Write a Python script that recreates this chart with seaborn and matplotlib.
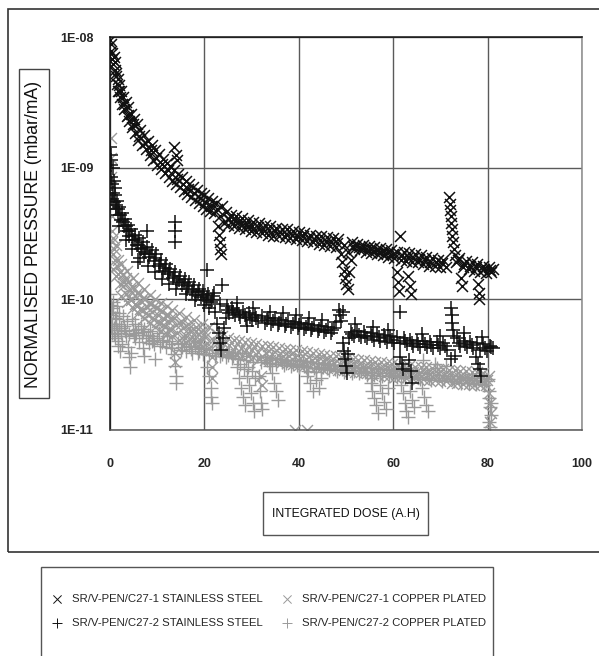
import matplotlib
matplotlib.use('Agg')
import matplotlib.pyplot as plt
import matplotlib.ticker as mticker
from matplotlib.patches import Rectangle
import pandas as pd
import seaborn as sns

# Legend names, in legend order
series_names = ['SR/V-PEN/C27-1 STAINLESS STEEL', 'SR/V-PEN/C27-2 STAINLESS STEEL',
                'SR/V-PEN/C27-1 COPPER PLATED', 'SR/V-PEN/C27-2 COPPER PLATED']

# (integrated dose A.H, normalised pressure mbar/mA)
ss1_points = [
    (0.1, 9.5e-9), (0.2, 7.8e-9), (0.3, 8.8e-9), (0.4, 6.8e-9), (0.5, 7.6e-9), (0.7, 6.2e-9),
    (0.8, 7.0e-9), (1.0, 5.6e-9), (1.1, 6.4e-9), (1.3, 5.0e-9), (1.4, 4.4e-9), (1.6, 4.8e-9),
    (1.7, 3.9e-9), (1.9, 4.3e-9), (2.1, 3.5e-9), (2.3, 3.9e-9), (2.5, 3.1e-9), (2.8, 3.5e-9),
    (3.0, 2.8e-9), (3.3, 3.2e-9), (3.5, 2.5e-9), (3.8, 2.9e-9), (4.1, 2.3e-9), (4.4, 2.6e-9),
    (4.7, 2.05e-9), (5.0, 2.35e-9), (5.3, 1.85e-9), (5.7, 2.15e-9), (6.0, 1.65e-9), (6.4, 1.95e-9),
    (6.8, 1.5e-9), (7.2, 1.78e-9), (7.6, 1.4e-9), (8.0, 1.62e-9), (8.4, 1.25e-9), (8.8, 1.5e-9),
    (9.2, 1.15e-9), (9.6, 1.38e-9), (10.0, 1.06e-9), (10.4, 1.27e-9), (10.8, 9.8e-10), (11.2, 1.18e-9),
    (11.6, 9.1e-10), (12.0, 1.1e-9), (12.4, 8.5e-10), (12.8, 1.03e-9), (13.2, 8.0e-10),
    (1.2, 5.3e-9), (2.0, 3.9e-9), (2.9, 3.1e-9), (3.9, 2.55e-9), (4.9, 2.15e-9), (6.2, 1.75e-9),
    (7.4, 1.55e-9), (8.6, 1.38e-9), (9.8, 1.2e-9), (11.0, 1.08e-9), (12.2, 9.6e-10), (14.2, 8.2e-10),
    (15.4, 7.6e-10), (16.6, 6.9e-10), (17.8, 6.4e-10), (19.0, 5.9e-10), (20.2, 5.5e-10), (21.4, 5.1e-10),
    (22.6, 4.9e-10), (24.9, 4.1e-10), (27.1, 3.9e-10), (29.5, 3.6e-10),
    (13.6, 1.45e-9), (13.9, 1.25e-9), (14.1, 1.15e-9),
    (13.6, 9.6e-10), (14.0, 7.5e-10), (14.4, 9.0e-10), (14.8, 7.1e-10), (15.2, 8.5e-10), (15.6, 6.7e-10),
    (16.0, 8.0e-10), (16.4, 6.3e-10), (16.8, 7.6e-10), (17.2, 6.0e-10), (17.6, 7.2e-10), (18.0, 5.7e-10),
    (18.4, 6.8e-10), (18.8, 5.4e-10), (19.2, 6.5e-10), (19.6, 5.1e-10), (20.0, 6.2e-10), (20.4, 4.9e-10),
    (20.8, 5.9e-10), (21.2, 4.7e-10), (21.6, 5.6e-10), (22.0, 4.5e-10), (22.4, 5.4e-10),
    (22.8, 3.6e-10), (23.0, 3.1e-10), (23.2, 2.7e-10), (23.4, 2.4e-10), (23.6, 2.2e-10),
    (23.3, 4.3e-10), (23.8, 5.1e-10), (24.2, 3.8e-10), (24.6, 4.6e-10), (25.0, 3.7e-10), (25.6, 4.4e-10),
    (26.2, 3.6e-10), (26.8, 4.3e-10), (27.4, 3.5e-10), (28.0, 4.15e-10), (28.6, 3.4e-10), (29.2, 4.0e-10),
    (29.8, 3.3e-10), (30.4, 3.9e-10), (31.0, 3.25e-10), (31.6, 3.8e-10), (32.2, 3.2e-10), (32.8, 3.7e-10),
    (33.4, 3.1e-10), (34.0, 3.6e-10), (34.6, 3.05e-10), (35.2, 3.5e-10), (35.8, 3.0e-10), (36.4, 3.45e-10),
    (37.0, 2.95e-10), (37.6, 3.4e-10), (38.2, 2.9e-10), (38.8, 3.3e-10), (39.4, 2.85e-10), (40.0, 3.25e-10),
    (40.6, 2.8e-10), (41.2, 3.2e-10), (41.8, 2.75e-10), (42.4, 3.1e-10), (43.0, 2.7e-10), (43.6, 3.05e-10),
    (44.2, 2.65e-10), (44.8, 3.0e-10), (45.4, 2.6e-10), (46.0, 2.95e-10), (46.6, 2.55e-10), (47.2, 2.9e-10),
    (47.8, 2.5e-10), (48.4, 2.85e-10),
    (25.3, 4.05e-10), (26.5, 3.95e-10), (27.7, 3.8e-10), (28.9, 3.7e-10), (30.1, 3.6e-10), (31.3, 3.52e-10),
    (32.5, 3.45e-10), (33.7, 3.36e-10), (34.9, 3.28e-10), (36.1, 3.22e-10), (37.3, 3.16e-10), (38.5, 3.1e-10),
    (39.7, 3.04e-10), (40.9, 3.0e-10), (42.1, 2.93e-10), (43.3, 2.87e-10), (44.5, 2.82e-10), (45.7, 2.77e-10),
    (46.9, 2.72e-10), (48.1, 2.67e-10),
    (48.9, 2.2e-10), (49.2, 1.9e-10), (49.5, 1.65e-10), (49.8, 1.45e-10), (50.1, 1.3e-10), (50.4, 1.2e-10),
    (50.7, 1.6e-10), (51.0, 2.0e-10), (49.6, 2.6e-10), (50.4, 2.3e-10),
    (51.2, 2.7e-10), (51.8, 2.4e-10), (52.4, 2.65e-10), (53.0, 2.35e-10), (53.6, 2.6e-10), (54.2, 2.3e-10),
    (54.8, 2.55e-10), (55.4, 2.25e-10), (56.0, 2.5e-10), (56.6, 2.2e-10), (57.2, 2.45e-10), (57.8, 2.15e-10),
    (58.4, 2.4e-10), (59.0, 2.1e-10), (59.6, 2.35e-10), (60.2, 2.05e-10),
    (51.5, 2.55e-10), (52.7, 2.5e-10), (53.9, 2.45e-10), (55.1, 2.4e-10), (56.3, 2.35e-10), (57.5, 2.3e-10),
    (58.7, 2.25e-10), (59.9, 2.2e-10),
    (61.5, 3.0e-10), (60.9, 1.6e-10), (61.1, 1.35e-10), (61.3, 1.15e-10), (63.2, 1.5e-10), (63.5, 1.25e-10),
    (63.8, 1.1e-10),
    (60.8, 2.3e-10), (61.6, 2.0e-10), (62.2, 2.3e-10), (62.8, 1.95e-10), (63.4, 2.25e-10), (64.0, 1.9e-10),
    (64.6, 2.2e-10), (65.2, 1.9e-10), (65.8, 2.15e-10), (66.4, 1.85e-10), (67.0, 2.1e-10), (67.6, 1.8e-10),
    (68.2, 2.05e-10), (68.8, 1.8e-10), (69.4, 2.0e-10), (70.0, 1.75e-10), (70.6, 2.0e-10), (71.2, 1.75e-10),
    (61.9, 2.15e-10), (63.1, 2.1e-10), (64.3, 2.05e-10), (65.5, 2.02e-10), (66.7, 1.98e-10), (67.9, 1.93e-10),
    (69.1, 1.9e-10), (70.3, 1.87e-10),
    (71.9, 6.0e-10), (72.0, 5.3e-10), (72.1, 4.8e-10), (72.2, 4.3e-10), (72.3, 3.8e-10), (72.4, 3.4e-10),
    (72.5, 3.0e-10), (72.6, 2.7e-10), (72.8, 2.4e-10), (73.0, 2.15e-10), (73.4, 1.9e-10), (74.0, 2.05e-10),
    (74.4, 1.45e-10), (74.6, 1.25e-10), (74.8, 1.75e-10), (75.4, 1.95e-10), (76.0, 1.7e-10), (76.6, 1.9e-10),
    (77.2, 1.65e-10), (77.9, 1.3e-10), (78.1, 1.12e-10), (78.2, 1.0e-10), (77.8, 1.85e-10), (78.4, 1.6e-10),
    (79.0, 1.8e-10), (79.6, 1.58e-10), (80.2, 1.75e-10), (80.8, 1.6e-10), (81.2, 1.7e-10),
    (73.7, 1.97e-10), (74.9, 1.85e-10), (76.3, 1.8e-10), (77.5, 1.76e-10), (79.3, 1.7e-10), (80.5, 1.67e-10),
]

ss2_points = [
    (0.1, 1.45e-9), (0.2, 1.25e-9), (0.15, 1.05e-9), (0.3, 8.5e-10), (0.5, 7.5e-10), (0.7, 6.5e-10),
    (0.4, 5.8e-10), (0.9, 5.5e-10), (1.1, 6.2e-10), (1.3, 4.9e-10), (1.5, 5.6e-10), (1.7, 4.4e-10),
    (2.0, 5.0e-10), (2.3, 4.0e-10), (2.6, 4.5e-10), (2.9, 3.6e-10), (3.2, 4.1e-10), (3.5, 3.3e-10),
    (3.8, 3.7e-10), (4.1, 3.0e-10), (4.5, 3.4e-10), (4.9, 2.8e-10), (5.3, 3.1e-10), (5.7, 2.6e-10),
    (6.1, 2.9e-10), (6.5, 2.4e-10), (6.9, 2.7e-10), (7.3, 2.2e-10), (7.8, 2.5e-10), (8.3, 2.1e-10),
    (8.8, 2.35e-10), (9.3, 1.95e-10), (9.8, 2.2e-10), (10.3, 1.8e-10), (10.8, 2.0e-10), (11.3, 1.65e-10),
    (11.8, 1.85e-10), (12.3, 1.55e-10), (12.8, 1.7e-10), (13.3, 1.45e-10), (13.8, 1.6e-10), (14.3, 1.35e-10),
    (14.8, 1.5e-10), (15.3, 1.28e-10), (15.8, 1.42e-10), (16.3, 1.2e-10), (16.8, 1.34e-10), (17.3, 1.13e-10),
    (17.8, 1.27e-10), (18.3, 1.08e-10), (18.8, 1.2e-10), (19.3, 1.03e-10), (19.8, 1.15e-10), (20.3, 9.8e-11),
    (20.8, 1.1e-10), (21.3, 9.5e-11), (21.8, 1.05e-10),
    (0.6, 1.0e-9), (0.3, 1.15e-9), (1.0, 7.0e-10), (1.9, 3.6e-10), (3.3, 2.8e-10), (4.7, 2.4e-10),
    (6.3, 2.05e-10), (8.0, 1.8e-10), (9.5, 1.6e-10), (11.0, 1.42e-10), (12.5, 1.3e-10), (14.0, 1.2e-10),
    (16.0, 1.1e-10), (18.0, 9.8e-11), (20.0, 9.0e-11), (21.0, 8.5e-11), (22.0, 1.12e-10),
    (0.8, 8.0e-10), (1.2, 5.2e-10), (1.6, 4.9e-10), (2.2, 4.4e-10), (2.8, 3.9e-10), (3.4, 3.6e-10),
    (4.0, 3.3e-10), (4.6, 3.0e-10), (5.2, 2.8e-10), (5.9, 2.6e-10), (6.7, 2.45e-10), (7.5, 2.3e-10),
    (8.5, 2.2e-10), (9.6, 2.05e-10), (10.6, 1.85e-10), (11.6, 1.72e-10), (12.6, 1.6e-10), (13.6, 1.5e-10),
    (14.6, 1.4e-10), (15.6, 1.33e-10), (16.6, 1.25e-10), (17.6, 1.18e-10), (18.6, 1.13e-10), (19.6, 1.07e-10),
    (20.6, 1.02e-10), (21.6, 9.8e-11),
    (7.8, 3.3e-10), (6.0, 1.9e-10), (13.8, 3.9e-10), (13.8, 3.3e-10), (13.8, 2.7e-10), (20.6, 1.66e-10),
    (23.7, 1.27e-10), (29.0, 6.2e-11),
    (22.2, 8.0e-11), (22.6, 6.5e-11), (23.0, 5.5e-11), (23.3, 4.6e-11), (23.6, 4.1e-11), (23.9, 5.0e-11),
    (24.2, 6.0e-11), (24.5, 7.2e-11), (23.4, 9.2e-11), (24.8, 8.8e-11), (25.3, 7.8e-11), (25.8, 8.5e-11),
    (26.4, 7.5e-11), (27.0, 8.2e-11), (27.6, 7.3e-11), (28.2, 8.0e-11), (28.8, 7.1e-11), (29.4, 7.8e-11),
    (30.0, 6.9e-11), (30.7, 7.6e-11), (31.4, 6.8e-11), (32.1, 7.4e-11), (32.8, 6.6e-11), (33.5, 7.2e-11),
    (34.2, 6.5e-11), (34.9, 7.1e-11), (35.6, 6.3e-11), (36.3, 6.9e-11), (37.0, 6.2e-11), (37.7, 6.8e-11),
    (38.4, 6.1e-11), (39.1, 6.7e-11), (39.8, 6.0e-11), (40.5, 6.6e-11), (41.2, 5.9e-11), (41.9, 6.4e-11),
    (42.6, 5.8e-11), (43.3, 6.3e-11), (44.0, 5.7e-11), (44.7, 6.2e-11), (45.4, 5.6e-11), (46.1, 6.1e-11),
    (46.8, 5.5e-11), (47.5, 6.0e-11),
    (25.0, 8.2e-11), (26.1, 8.0e-11), (27.3, 7.75e-11), (28.5, 7.55e-11), (29.7, 7.35e-11), (30.9, 7.2e-11),
    (33.2, 6.9e-11), (34.5, 6.8e-11), (35.9, 6.6e-11), (37.3, 6.5e-11), (38.7, 6.4e-11), (40.1, 6.3e-11),
    (41.5, 6.15e-11), (42.9, 6.05e-11), (44.3, 5.95e-11), (45.7, 5.85e-11), (47.1, 5.75e-11),
    (26.9, 9.3e-11), (30.3, 8.6e-11), (33.8, 8.0e-11), (36.6, 7.8e-11), (39.5, 7.5e-11), (42.2, 7.1e-11),
    (45.0, 6.9e-11), (47.8, 6.7e-11),
    (48.5, 8.3e-11), (48.8, 7.5e-11), (49.0, 6.8e-11), (49.3, 4.6e-11), (49.5, 4.0e-11), (49.7, 3.5e-11),
    (50.0, 3.1e-11), (50.2, 2.7e-11), (50.4, 3.8e-11), (50.6, 5.0e-11), (49.4, 8.0e-11),
    (51.0, 5.6e-11), (51.7, 5.2e-11), (52.4, 5.7e-11), (53.1, 5.1e-11), (53.8, 5.6e-11), (54.5, 5.0e-11),
    (55.2, 5.5e-11), (55.9, 4.9e-11), (56.6, 5.4e-11), (57.3, 4.8e-11), (58.0, 5.3e-11), (58.7, 4.7e-11),
    (59.4, 5.2e-11), (60.1, 4.6e-11), (60.8, 5.1e-11),
    (51.3, 5.4e-11), (52.7, 5.35e-11), (54.1, 5.25e-11), (55.5, 5.2e-11), (56.9, 5.1e-11), (58.3, 5.0e-11),
    (59.7, 4.9e-11), (52.0, 6.4e-11), (55.8, 6.1e-11), (58.9, 5.8e-11),
    (61.4, 7.9e-11), (61.5, 3.6e-11), (61.8, 3.2e-11), (62.0, 2.9e-11), (63.4, 3.4e-11), (63.7, 2.8e-11),
    (64.0, 2.3e-11),
    (61.5, 4.6e-11), (62.2, 5.0e-11), (62.9, 4.5e-11), (63.6, 4.9e-11), (64.3, 4.4e-11), (65.0, 4.8e-11),
    (65.7, 4.3e-11), (66.4, 4.8e-11), (67.1, 4.3e-11), (67.8, 4.7e-11), (68.5, 4.2e-11), (69.2, 4.7e-11),
    (69.9, 4.2e-11), (70.6, 4.6e-11), (71.3, 4.1e-11),
    (62.5, 4.75e-11), (63.9, 4.65e-11), (65.3, 4.55e-11), (66.7, 4.55e-11), (68.1, 4.45e-11), (69.5, 4.45e-11),
    (70.9, 4.35e-11), (66.0, 5.4e-11), (69.9, 5.2e-11),
    (72.2, 8.6e-11), (72.4, 7.5e-11), (72.5, 6.6e-11), (72.7, 5.8e-11), (72.9, 5.2e-11), (73.1, 3.7e-11),
    (72.3, 3.5e-11), (73.5, 5.0e-11), (74.2, 4.4e-11), (74.9, 4.8e-11), (75.6, 4.3e-11), (76.3, 4.7e-11),
    (77.0, 4.2e-11), (77.6, 3.6e-11), (78.0, 3.2e-11), (78.3, 2.9e-11), (78.5, 2.6e-11),
    (77.7, 4.6e-11), (78.4, 4.1e-11), (79.1, 4.5e-11), (79.8, 4.0e-11), (80.5, 4.4e-11), (81.2, 4.2e-11),
    (73.9, 4.6e-11), (75.3, 4.55e-11), (76.7, 4.45e-11), (79.4, 4.25e-11), (80.8, 4.3e-11), (75.0, 5.5e-11),
    (78.9, 5.1e-11),
]

cu1_points = [
    (0.15, 1.7e-9), (0.2, 1.2e-9), (0.25, 8.5e-10), (0.3, 6.0e-10), (0.35, 4.3e-10), (0.4, 3.3e-10),
    (0.5, 2.7e-10),
    (0.6, 2.9e-10), (0.6, 2.2e-10), (0.6, 1.7e-10), (1.2, 2.6e-10), (1.2, 1.5e-10), (1.8, 2.0e-10),
    (2.4, 1.85e-10), (2.4, 1.05e-10), (3.0, 1.35e-10), (3.6, 1.65e-10), (3.6, 9.5e-11), (4.2, 1.17e-10),
    (4.8, 1.45e-10), (4.8, 8.5e-11), (5.4, 1.05e-10), (6.0, 1.32e-10), (6.0, 7.8e-11), (6.6, 9.6e-11),
    (7.2, 1.2e-10), (7.2, 7.2e-11), (7.8, 8.7e-11), (8.4, 1.08e-10), (8.4, 6.6e-11), (9.0, 8.0e-11),
    (9.6, 1.0e-10), (9.6, 6.1e-11), (10.2, 7.5e-11), (10.8, 9.3e-11), (10.8, 5.7e-11), (11.4, 7.0e-11),
    (12.0, 8.8e-11), (12.0, 5.4e-11), (12.6, 6.7e-11), (13.2, 8.3e-11), (13.2, 5.2e-11),
    (0.9, 2.4e-10), (1.5, 1.8e-10), (2.1, 1.3e-10), (2.7, 1.55e-10), (3.3, 1.1e-10), (3.9, 1.35e-10),
    (4.5, 9.8e-11), (5.1, 1.2e-10), (5.7, 8.8e-11), (6.3, 1.1e-10), (6.9, 8.2e-11), (7.5, 1.0e-10),
    (8.1, 7.6e-11), (8.7, 9.2e-11), (9.3, 7.0e-11), (9.9, 8.6e-11), (10.5, 6.6e-11), (11.1, 8.1e-11),
    (11.7, 6.2e-11), (12.3, 7.6e-11), (12.9, 5.9e-11), (13.5, 7.2e-11), (15.0, 6.8e-11), (15.8, 5.3e-11),
    (16.6, 6.4e-11), (17.4, 5.1e-11), (18.2, 6.1e-11), (19.0, 4.9e-11), (19.8, 5.8e-11), (20.6, 4.6e-11),
    (1.0, 2.0e-10), (1.6, 1.55e-10), (2.2, 1.6e-10), (2.8, 1.25e-10), (3.4, 1.45e-10), (4.0, 1.05e-10),
    (4.6, 1.25e-10), (5.2, 9.2e-11), (5.8, 1.12e-10), (6.4, 8.4e-11), (7.0, 1.02e-10), (7.6, 7.8e-11),
    (8.2, 9.4e-11), (8.8, 7.2e-11), (9.4, 8.8e-11), (10.0, 6.7e-11), (10.6, 8.2e-11), (11.2, 6.3e-11),
    (11.8, 7.6e-11), (12.4, 5.9e-11), (13.0, 7.2e-11), (14.3, 5.5e-11), (15.1, 6.5e-11), (15.9, 5.0e-11),
    (16.7, 6.0e-11), (17.5, 4.8e-11), (18.3, 5.7e-11), (19.1, 4.6e-11), (19.9, 5.4e-11),
    (13.8, 3.9e-11), (13.8, 3.3e-11),
    (14.0, 6.3e-11), (14.6, 7.8e-11), (14.6, 4.9e-11), (15.4, 6.0e-11), (16.2, 7.3e-11), (16.2, 4.7e-11),
    (17.0, 5.7e-11), (17.8, 6.9e-11), (17.8, 4.5e-11), (18.6, 5.4e-11), (19.4, 6.5e-11), (19.4, 4.3e-11),
    (20.2, 5.1e-11), (21.6, 3.6e-11), (21.6, 3.0e-11), (21.6, 2.5e-11), (21.0, 6.1e-11), (21.0, 4.2e-11),
    (21.8, 4.9e-11),
    (22.6, 5.4e-11), (23.2, 4.1e-11), (23.8, 5.2e-11), (24.4, 4.0e-11), (25.0, 5.0e-11), (25.6, 3.9e-11),
    (26.2, 4.9e-11), (26.8, 3.8e-11), (27.4, 4.8e-11), (28.0, 3.7e-11), (28.6, 4.7e-11), (29.2, 3.65e-11),
    (29.8, 4.6e-11), (30.4, 3.6e-11), (31.0, 4.5e-11), (31.6, 3.5e-11), (32.0, 2.6e-11), (32.1, 2.2e-11),
    (32.2, 4.4e-11), (32.8, 3.45e-11), (33.4, 4.35e-11), (34.0, 3.4e-11), (34.6, 4.3e-11), (35.2, 3.35e-11),
    (35.8, 4.2e-11), (36.4, 3.3e-11), (37.0, 4.15e-11), (37.6, 3.25e-11), (38.2, 4.1e-11), (38.8, 3.2e-11),
    (39.2, 1.0e-11), (41.7, 1.0e-11),
    (39.4, 4.05e-11), (40.0, 3.15e-11), (40.6, 4.0e-11), (41.2, 3.1e-11), (41.8, 3.95e-11), (42.4, 3.05e-11),
    (43.0, 3.9e-11), (43.6, 3.0e-11), (44.2, 3.8e-11), (44.8, 2.95e-11), (45.4, 3.75e-11), (46.0, 2.95e-11),
    (46.6, 3.7e-11), (47.2, 2.9e-11), (47.8, 3.65e-11), (48.4, 2.85e-11), (49.0, 3.6e-11), (49.6, 2.85e-11),
    (50.2, 3.55e-11), (50.8, 2.8e-11), (51.4, 3.5e-11), (52.0, 2.75e-11), (52.6, 3.45e-11), (53.2, 2.75e-11),
    (53.8, 3.4e-11), (54.4, 2.7e-11), (55.0, 3.35e-11), (55.6, 2.65e-11), (56.2, 3.3e-11), (56.8, 2.65e-11),
    (57.4, 3.3e-11), (58.0, 2.6e-11), (58.6, 3.25e-11), (59.2, 2.6e-11), (59.8, 3.2e-11), (60.4, 2.55e-11),
    (61.0, 3.15e-11), (61.6, 2.55e-11), (62.2, 3.1e-11), (62.8, 2.5e-11), (63.4, 3.1e-11), (64.0, 2.5e-11),
    (64.6, 3.05e-11), (65.2, 2.45e-11), (65.8, 3.0e-11), (66.4, 2.45e-11), (67.0, 3.0e-11), (67.6, 2.4e-11),
    (68.2, 2.95e-11), (68.8, 2.4e-11), (69.4, 2.9e-11), (70.0, 2.35e-11), (70.6, 2.9e-11), (71.2, 2.35e-11),
    (71.8, 2.85e-11), (72.4, 2.3e-11), (73.0, 2.85e-11), (73.6, 2.3e-11), (74.2, 2.8e-11), (74.8, 2.25e-11),
    (75.4, 2.8e-11), (76.0, 2.25e-11), (76.6, 2.75e-11), (77.2, 2.2e-11), (77.8, 2.75e-11), (78.4, 2.2e-11),
    (79.0, 2.7e-11), (79.6, 2.2e-11), (80.2, 2.6e-11),
    (22.9, 4.7e-11), (24.1, 4.55e-11), (25.3, 4.45e-11), (26.5, 4.3e-11), (27.7, 4.2e-11), (28.9, 4.1e-11),
    (30.1, 4.05e-11), (31.3, 3.95e-11), (33.1, 3.85e-11), (34.3, 3.8e-11), (35.5, 3.75e-11), (36.7, 3.7e-11),
    (37.9, 3.65e-11), (39.1, 3.6e-11), (40.3, 3.55e-11), (41.5, 3.5e-11), (42.7, 3.45e-11), (43.9, 3.4e-11),
    (45.1, 3.35e-11), (46.3, 3.3e-11), (47.5, 3.25e-11), (48.7, 3.2e-11), (49.9, 3.18e-11), (51.1, 3.13e-11),
    (52.3, 3.08e-11), (53.5, 3.05e-11), (54.7, 3.0e-11), (55.9, 2.97e-11), (57.1, 2.95e-11), (58.3, 2.9e-11),
    (59.5, 2.88e-11), (60.7, 2.85e-11), (61.9, 2.8e-11), (63.1, 2.78e-11), (64.3, 2.75e-11), (65.5, 2.72e-11),
    (66.7, 2.7e-11), (67.9, 2.66e-11), (69.1, 2.63e-11), (70.3, 2.6e-11), (71.5, 2.58e-11), (72.7, 2.55e-11),
    (73.9, 2.53e-11), (75.1, 2.5e-11), (76.3, 2.48e-11), (77.5, 2.45e-11), (78.7, 2.43e-11), (79.9, 2.4e-11),
    (80.4, 1.9e-11), (80.6, 1.6e-11), (80.8, 1.35e-11), (80.5, 1.15e-11),
]

cu2_points = [
    (0.1, 1.1e-10), (0.2, 9.0e-11), (0.3, 7.5e-11), (0.5, 6.5e-11), (0.4, 5.5e-11), (0.7, 8.0e-11),
    (0.9, 6.0e-11), (1.1, 5.0e-11), (1.3, 7.0e-11), (1.5, 5.8e-11), (1.7, 4.8e-11), (2.0, 6.5e-11),
    (2.3, 5.5e-11), (2.6, 4.5e-11), (3.0, 6.2e-11), (3.4, 5.2e-11), (3.8, 4.3e-11), (4.0, 3.6e-11),
    (4.2, 3.0e-11), (4.4, 3.9e-11), (4.8, 5.8e-11), (5.2, 5.0e-11), (5.6, 5.5e-11), (6.2, 4.7e-11),
    (6.8, 5.3e-11), (7.0, 4.2e-11), (7.1, 3.7e-11), (7.6, 5.0e-11), (8.2, 4.6e-11), (8.8, 5.2e-11),
    (9.4, 4.5e-11), (9.6, 3.5e-11), (10.0, 5.0e-11), (10.6, 4.4e-11), (11.2, 4.9e-11), (11.8, 4.3e-11),
    (0.6, 9.5e-11), (1.0, 7.2e-11), (1.9, 7.8e-11), (2.8, 7.4e-11), (3.6, 6.8e-11), (4.6, 7.0e-11),
    (5.4, 6.4e-11), (6.5, 6.2e-11), (7.3, 5.9e-11), (8.5, 5.7e-11), (9.1, 4.9e-11), (10.3, 5.5e-11),
    (0.2, 6.2e-11), (0.5, 8.5e-11), (0.8, 5.4e-11), (1.2, 6.4e-11), (1.4, 8.8e-11), (1.6, 5.2e-11),
    (2.4, 6.0e-11), (3.2, 5.7e-11), (4.0, 5.4e-11), (5.0, 5.3e-11), (5.9, 5.9e-11), (7.0, 5.6e-11),
    (8.0, 5.3e-11), (9.0, 4.8e-11), (11.0, 4.7e-11), (12.0, 5.2e-11), (13.2, 4.5e-11), (15.3, 4.3e-11),
    (17.1, 4.15e-11), (18.9, 4.0e-11),
    (1.8, 4.4e-11), (2.2, 4.0e-11),
    (12.4, 4.8e-11), (13.0, 4.2e-11), (13.6, 3.8e-11), (13.8, 3.1e-11), (13.9, 2.6e-11), (14.0, 2.3e-11),
    (14.4, 4.6e-11), (15.0, 4.1e-11), (15.6, 4.5e-11), (16.2, 4.0e-11), (16.8, 4.4e-11), (17.4, 3.9e-11),
    (18.0, 4.3e-11), (18.6, 3.85e-11), (19.2, 4.2e-11), (19.8, 3.8e-11),
    (20.6, 3.0e-11), (21.0, 2.6e-11), (21.3, 2.1e-11), (21.5, 1.8e-11), (21.7, 1.6e-11),
    (20.4, 4.15e-11), (21.0, 3.75e-11), (21.6, 4.1e-11), (22.2, 3.7e-11), (22.8, 4.05e-11), (23.4, 3.65e-11),
    (24.0, 4.0e-11), (24.6, 3.6e-11), (25.2, 3.95e-11), (25.8, 3.55e-11), (26.4, 3.9e-11),
    (22.5, 3.9e-11), (23.7, 3.8e-11), (24.9, 3.75e-11), (26.1, 3.7e-11),
    (27.0, 3.0e-11), (27.4, 2.5e-11), (27.8, 2.1e-11), (28.2, 1.8e-11), (28.6, 1.55e-11), (29.0, 2.6e-11),
    (29.4, 2.2e-11), (29.8, 1.9e-11), (30.2, 1.6e-11), (30.6, 1.4e-11), (27.2, 3.5e-11), (28.0, 3.85e-11),
    (28.8, 3.4e-11), (29.6, 3.7e-11), (30.4, 3.3e-11), (31.2, 3.65e-11), (31.6, 2.6e-11), (31.8, 2.0e-11),
    (32.0, 1.6e-11), (32.2, 1.45e-11), (32.0, 3.3e-11), (32.8, 3.6e-11), (33.6, 3.25e-11),
    (27.6, 3.2e-11), (28.4, 2.9e-11), (29.2, 3.0e-11), (30.0, 2.8e-11), (30.8, 2.5e-11), (33.2, 3.4e-11),
    (34.4, 2.7e-11), (34.8, 2.3e-11), (35.2, 2.0e-11), (35.6, 1.7e-11),
    (34.4, 3.55e-11), (35.2, 3.2e-11), (36.0, 3.5e-11), (36.8, 3.15e-11), (37.6, 3.45e-11), (38.4, 3.1e-11),
    (39.2, 3.4e-11), (40.0, 3.05e-11), (40.8, 3.35e-11),
    (34.0, 3.1e-11), (36.4, 3.3e-11), (37.2, 3.25e-11), (38.8, 3.2e-11), (39.6, 3.15e-11), (41.2, 3.1e-11),
    (41.8, 2.6e-11), (42.4, 2.3e-11), (43.0, 2.0e-11), (43.6, 2.4e-11), (44.2, 2.1e-11), (44.8, 2.5e-11),
    (41.6, 3.0e-11), (42.4, 3.3e-11), (43.2, 2.95e-11), (44.0, 3.25e-11), (44.8, 2.9e-11), (45.6, 3.2e-11),
    (46.4, 2.85e-11), (47.2, 3.15e-11), (48.0, 2.8e-11), (48.8, 3.1e-11), (49.6, 2.75e-11), (50.4, 3.05e-11),
    (51.2, 2.7e-11), (52.0, 3.0e-11), (52.8, 2.7e-11), (53.6, 2.95e-11), (54.4, 2.65e-11),
    (42.0, 2.8e-11), (43.6, 2.75e-11), (45.2, 3.0e-11), (46.0, 2.95e-11), (47.6, 2.9e-11), (49.2, 2.9e-11),
    (50.0, 2.85e-11), (51.6, 2.8e-11), (53.2, 2.8e-11), (54.0, 2.75e-11),
    (55.2, 2.3e-11), (55.6, 2.0e-11), (56.0, 1.75e-11), (56.4, 1.55e-11), (56.8, 1.35e-11), (57.2, 2.2e-11),
    (57.6, 1.9e-11), (58.0, 1.65e-11), (58.4, 1.45e-11), (58.8, 2.1e-11),
    (55.2, 2.95e-11), (56.0, 2.65e-11), (56.8, 2.9e-11), (57.6, 2.6e-11), (58.4, 2.9e-11), (59.2, 2.6e-11),
    (60.0, 2.85e-11), (60.8, 2.55e-11),
    (55.6, 2.5e-11), (57.2, 2.7e-11), (59.6, 2.7e-11), (60.4, 2.65e-11),
    (61.6, 2.2e-11), (62.0, 1.9e-11), (62.4, 1.6e-11), (62.8, 1.4e-11), (63.2, 1.25e-11), (63.6, 2.0e-11),
    (64.0, 1.7e-11), (64.4, 1.5e-11), (61.6, 2.8e-11), (62.4, 2.5e-11), (63.2, 2.8e-11), (64.0, 2.5e-11),
    (64.8, 2.75e-11), (66.2, 2.1e-11), (66.6, 1.8e-11), (67.0, 1.55e-11), (67.4, 1.4e-11),
    (62.0, 2.6e-11), (63.6, 2.6e-11), (65.2, 2.55e-11),
    (65.6, 2.45e-11), (66.4, 3.4e-11), (67.2, 2.7e-11), (68.0, 2.4e-11), (68.8, 3.2e-11), (69.6, 2.65e-11),
    (70.4, 2.35e-11), (71.2, 3.1e-11), (72.0, 2.6e-11), (72.8, 2.35e-11), (73.6, 2.6e-11), (74.4, 2.3e-11),
    (75.2, 2.55e-11), (76.0, 2.3e-11), (76.8, 2.5e-11), (77.6, 2.25e-11), (78.4, 2.5e-11), (79.2, 2.2e-11),
    (80.0, 2.45e-11),
    (67.6, 2.5e-11), (69.2, 2.95e-11), (70.8, 2.5e-11), (72.4, 2.45e-11), (74.0, 2.45e-11), (75.6, 2.4e-11),
    (77.2, 2.4e-11), (78.8, 2.35e-11), (79.6, 2.35e-11),
    (80.2, 2.0e-11), (80.4, 1.75e-11), (80.6, 1.5e-11), (80.8, 1.3e-11), (80.3, 1.15e-11), (80.5, 1.05e-11),
    (80.7, 1.6e-11),
]

x_ticks = [0, 20, 40, 60, 80, 100]
y_ticks = [1e-11, 1e-10, 1e-9, 1e-8]
y_tick_labels = ['1E-11', '1E-10', '1E-09', '1E-08']

# build one long table
frames = []
for name, pts in zip(series_names, [ss1_points, ss2_points, cu1_points, cu2_points]):
    part = pd.DataFrame(pts, columns=['dose', 'pressure'])
    part['series'] = name
    frames.append(part)
df = pd.concat(frames, ignore_index=True)

sns.set_style('white')
plt.rcParams['font.family'] = ['Liberation Sans', 'DejaVu Sans']

W, H = 599, 656
fig = plt.figure(figsize=(W / 100, H / 100), dpi=100)

def fx(px):
    return px / W

def fy(py):
    return 1 - py / H

ax = fig.add_axes([fx(110), fy(430), fx(582) - fx(110), fy(37) - fy(430)])

black = '#111111'
grey = '#9a9a9a'
styles = {
    series_names[0]: dict(marker='x', color=black, s=62, linewidth=1.1),
    series_names[1]: dict(marker='+', color=black, s=95, linewidth=1.1),
    series_names[2]: dict(marker='x', color=grey, s=62, linewidth=1.0),
    series_names[3]: dict(marker='+', color=grey, s=95, linewidth=1.0),
}
# grey series first so the black ones sit on top
for name in [series_names[3], series_names[2], series_names[1], series_names[0]]:
    sns.scatterplot(data=df[df['series'] == name], x='dose', y='pressure', ax=ax,
                    legend=False, label=name, **styles[name])

ax.set_yscale('log')
ax.set_xlim(0, 100)
ax.set_ylim(1e-11, 1e-8)
ax.set_xlabel('')
ax.set_ylabel('')

ax.set_xticks(x_ticks)
ax.xaxis.set_minor_locator(mticker.MultipleLocator(4))
ax.yaxis.set_major_locator(mticker.FixedLocator(y_ticks))
ax.yaxis.set_major_formatter(mticker.FixedFormatter(y_tick_labels))
ax.yaxis.set_minor_locator(mticker.LogLocator(base=10, subs=range(2, 10)))
ax.yaxis.set_minor_formatter(mticker.NullFormatter())

ax.tick_params(axis='x', which='major', direction='out', length=8.5, width=1, color='#333333',
               pad=12, labelsize=9)
ax.tick_params(axis='x', which='minor', direction='out', length=3.5, width=1, color='#333333')
ax.tick_params(axis='y', which='major', direction='out', length=6, width=1, color='#333333',
               pad=6, labelsize=9)
ax.tick_params(axis='y', which='minor', direction='out', length=3, width=1, color='#333333')
for lbl in ax.get_xticklabels() + ax.get_yticklabels():
    lbl.set_fontweight('bold')

ax.grid(True, which='major', color='#5a5a5a', linewidth=1)
ax.set_axisbelow(True)
ax.spines['top'].set_color('#111111')
ax.spines['left'].set_color('#111111')
ax.spines['right'].set_color('#8a8a8a')
ax.spines['bottom'].set_color('#555555')
for sp in ax.spines.values():
    sp.set_linewidth(1.1)

# outer chart frame (right edge runs off the picture)
fig.add_artist(Rectangle((fx(8), fy(552)), fx(620) - fx(8), fy(9) - fy(552),
                         transform=fig.transFigure, fill=False, ec='#333333', lw=1.2))

# axis title boxes
fig.add_artist(Rectangle((fx(19), fy(398)), fx(49) - fx(19), fy(69) - fy(398),
                         transform=fig.transFigure, fill=False, ec='#444444', lw=1))
fig.text(fx(34), fy(234), 'NORMALISED PRESSURE (mbar/mA)', rotation=90, ha='center', va='center',
         fontsize=12.7, color='#111111')
fig.add_artist(Rectangle((fx(263), fy(535)), fx(428) - fx(263), fy(492) - fy(535),
                         transform=fig.transFigure, fill=False, ec='#555555', lw=1))
fig.text(fx(345.5), fy(514), 'INTEGRATED DOSE (A.H)', ha='center', va='center',
         fontsize=8.8, color='#111111')

# legend box (bottom edge runs off the picture)
fig.add_artist(Rectangle((fx(41), fy(680)), fx(493) - fx(41), fy(567) - fy(680),
                         transform=fig.transFigure, fill=False, ec='#555555', lw=1))
handles, labels = ax.get_legend_handles_labels()
order = [labels.index(n) for n in series_names]
leg = fig.legend([handles[i] for i in order], [labels[i] for i in order], ncol=2,
                 loc='upper left', bbox_to_anchor=(fx(51), fy(594)), frameon=False,
                 fontsize=8.2, handlelength=1.0, handletextpad=0.85, columnspacing=1.6,
                 labelspacing=1.2, borderpad=0, borderaxespad=0, markerscale=0.75)
for h in leg.legend_handles:
    h.set_linewidth(0.7)

fig.savefig('out.png', dpi=100)
